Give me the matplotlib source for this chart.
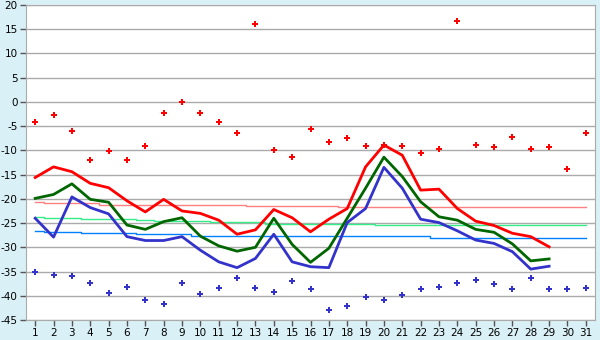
import numpy as np
import matplotlib
matplotlib.use('Agg')
import matplotlib.pyplot as plt

plt.rcParams['axes.unicode_minus'] = False
plt.rcParams['font.family'] = 'DejaVu Sans'

days = np.arange(1, 32)
line_days = np.arange(1, 30)

# daily records (markers)
rec_max = [-4.2, -2.6, -6.1, -12.0, -10.2, -11.9, -9.0, -2.2, -0.1, -2.2,
           -4.2, -6.5, 16.0, -10.0, -11.4, -5.5, -8.3, -7.5, -9.0, -8.9,
           -9.0, -10.6, -9.8, 16.8, -8.8, -9.2, -7.3, -9.8, -9.2, -13.9, -6.5]
rec_min = [-35.1, -35.8, -36.0, -37.4, -39.5, -38.1, -40.9, -41.8, -37.4, -39.7,
           -38.3, -36.4, -38.3, -39.3, -37.0, -38.5, -43.0, -42.2, -40.3, -40.9,
           -39.9, -38.7, -38.1, -37.4, -36.8, -37.6, -38.7, -36.4, -38.7, -38.7, -38.3]

# observed this month
t_max = [-15.6, -13.4, -14.4, -16.8, -17.7, -20.4, -22.7, -20.1, -22.5, -23.0,
         -24.4, -27.3, -26.4, -22.2, -23.9, -26.8, -24.2, -22.0, -13.4, -8.9,
         -11.0, -18.2, -18.0, -22.0, -24.6, -25.5, -27.1, -27.8, -29.9]
t_mean = [-19.9, -19.1, -16.9, -20.1, -20.7, -25.4, -26.3, -24.7, -23.9, -27.7,
          -29.7, -30.8, -30.0, -24.0, -29.4, -33.1, -30.2, -24.0, -17.8, -11.4,
          -15.4, -20.6, -23.7, -24.4, -26.3, -26.9, -29.3, -32.8, -32.4]
t_min = [-24.0, -27.9, -19.6, -21.8, -23.1, -27.8, -28.6, -28.6, -27.8, -30.6,
         -33.0, -34.2, -32.3, -27.3, -33.0, -34.0, -34.2, -24.9, -22.0, -13.5,
         -17.8, -24.2, -24.9, -26.6, -28.5, -29.2, -30.9, -34.5, -33.9]

# climate normals
norm_max = [-20.7, -20.9, -20.9, -20.9, -21.2, -21.2, -21.2, -21.2, -21.2, -21.2,
            -21.2, -21.2, -21.5, -21.5, -21.5, -21.5, -21.5, -21.75, -21.75, -21.75,
            -21.75, -21.75, -21.75, -21.75, -21.75, -21.75, -21.75, -21.75, -21.75, -21.75, -21.75]
norm_mean = [-23.8, -24.0, -24.0, -24.2, -24.2, -24.2, -24.4, -24.6, -24.6, -24.6,
             -24.85, -24.85, -24.85, -25.1, -25.1, -25.1, -25.1, -25.1, -25.1, -25.4,
             -25.4, -25.4, -25.4, -25.4, -25.4, -25.4, -25.4, -25.4, -25.4, -25.4, -25.4]
norm_min = [-26.6, -26.8, -26.8, -27.1, -27.1, -27.1, -27.3, -27.3, -27.3, -27.7,
            -27.7, -27.7, -27.7, -27.7, -27.7, -27.7, -27.7, -27.7, -27.7, -27.7,
            -27.7, -27.7, -28.1, -28.1, -28.1, -28.1, -28.1, -28.1, -28.1, -28.1, -28.1]

fig = plt.figure(figsize=(6, 3.4), dpi=100, facecolor='#d9f0f6')
ax = fig.add_axes([26/600, 20/340, 569/600, 315/340])
ax.set_facecolor('white')

ax.plot(days, norm_max, color='#ff8080', lw=1, drawstyle='steps-mid')
ax.plot(days, norm_mean, color='#33ee88', lw=1, drawstyle='steps-mid')
ax.plot(days, norm_min, color='#0080ff', lw=1, drawstyle='steps-mid')

ax.plot(line_days, t_max, color='#ff0000', lw=2)
ax.plot(line_days, t_mean, color='#006600', lw=2)
ax.plot(line_days, t_min, color='#3333cc', lw=2)

ax.plot(days, rec_max, 'P', color='#ff0000', ms=5, mew=0)
ax.plot(days, rec_min, 'P', color='#3333cc', ms=5, mew=0)

ax.set_xlim(0.5, 31.5)
ax.set_ylim(-45, 20)
ax.set_xticks(days)
ax.set_yticks(np.arange(-45, 21, 5))
ax.yaxis.grid(True, color='#aaaaaa', lw=1)
ax.set_axisbelow(True)
for s in ax.spines.values():
    s.set_color('#aaaaaa')
ax.tick_params(axis='both', colors='#555555', labelcolor='black', labelsize=7.5,
               length=4, width=1, pad=2)

plt.savefig('out.png', dpi=100, facecolor=fig.get_facecolor())
